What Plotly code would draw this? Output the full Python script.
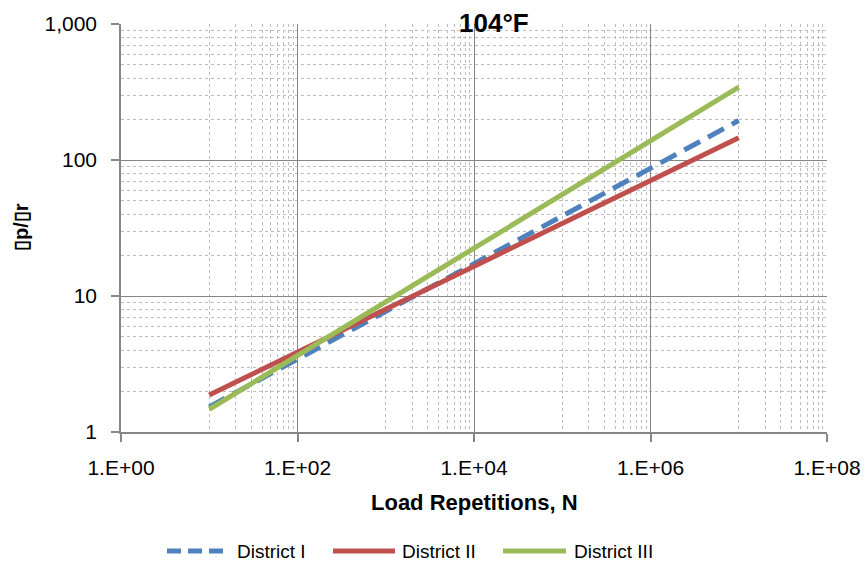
import plotly.graph_objects as go

# Data (log-log straight lines, N = 10 .. 1e7)
load_reps = [1e1, 1e2, 1e3, 1e4, 1e5, 1e6, 1e7]
district_1 = [1.53, 3.44, 7.73, 17.3, 38.8, 87.1, 195]
district_2 = [1.87, 3.86, 7.98, 16.5, 34.1, 70.5, 146]
district_3 = [1.47, 3.65, 9.04, 22.4, 55.6, 138, 343]

series_names = ["District I", "District II", "District III"]
series_colors = ["#4F81BD", "#C0504D", "#9BBB59"]
series_dash = ["18px,9px", "solid", "solid"]

x_tick_vals = [1, 1e2, 1e4, 1e6, 1e8]
x_tick_text = ["1.E+00", "1.E+02", "1.E+04", "1.E+06", "1.E+08"]
y_tick_vals = [1, 10, 100, 1000]
y_tick_text = ["1", "10", "100", "1,000"]

x_minor = [k * 10 ** d for d in (1, 3, 5, 7) for k in range(1, 10)]
y_minor = [k * 10 ** d for d in (0, 1, 2) for k in range(2, 10)]

FONT = "Liberation Sans, Arial, sans-serif"
AXIS_GRAY = "#878787"
MINOR_GRAY = "#BDBDBD"

# plot-area pixel geometry
L, R, T, B = 121, 827, 24, 432
W, H = R - L, B - T


def px_x(p):
    return (p - L) / W


def px_y(p):
    return (B - p) / H


fig = go.Figure()
for name, vals, col, dsh in zip(series_names, [district_1, district_2, district_3],
                                series_colors, series_dash):
    fig.add_trace(go.Scatter(x=load_reps, y=vals, mode="lines", name=name,
                             showlegend=False,
                             line=dict(color=col, width=5, dash=dsh)))

annotations = [
    dict(text="<b>104°F</b>", x=px_x(494), y=px_y(23), xref="paper", yref="paper",
         xanchor="center", yanchor="middle", showarrow=False,
         font=dict(size=26, family=FONT, color="black")),
    dict(text="<b>Load Repetitions, N</b>", x=px_x(474), y=px_y(502), xref="paper", yref="paper",
         xanchor="center", yanchor="middle", showarrow=False,
         font=dict(size=22, family=FONT, color="black")),
    dict(text="<b>\u25afp/\u25afr</b>", x=px_x(21), y=px_y(227), xref="paper", yref="paper",
         xanchor="center", yanchor="middle", showarrow=False, textangle=-90,
         font=dict(size=20, family=FONT, color="black")),
]

# manual legend (long line samples as in the reference)
legend_y = px_y(551)
sample_x = [(167, 223), (333, 395), (503, 566)]
text_x = [235, 400, 572]
shapes = []
for (x0, x1), tx, name, col, dsh in zip(sample_x, text_x, series_names, series_colors,
                                        ["14px,7px", "solid", "solid"]):
    shapes.append(dict(type="line", xref="paper", yref="paper",
                       x0=px_x(x0), x1=px_x(x1), y0=legend_y, y1=legend_y,
                       line=dict(color=col, width=5, dash=dsh)))
    annotations.append(dict(text=name, x=px_x(tx), y=legend_y, xref="paper", yref="paper",
                            xanchor="left", yanchor="middle", showarrow=False,
                            font=dict(size=19, family=FONT, color="black")))

fig.update_layout(
    width=865, height=563,
    margin=dict(l=L, r=865 - R, t=T, b=563 - B),
    paper_bgcolor="white", plot_bgcolor="white",
    font=dict(family=FONT, size=21, color="black"),
    showlegend=False,
    annotations=annotations,
    shapes=shapes,
)

fig.update_xaxes(
    type="log", range=[0, 8], automargin=False,
    tickmode="array", tickvals=x_tick_vals, ticktext=x_tick_text,
    ticks="outside", ticklen=8, tickcolor=AXIS_GRAY, tickwidth=1.5,
    ticklabelstandoff=8, ticklabeloverflow="allow",
    showline=True, linecolor=AXIS_GRAY, linewidth=1.5,
    showgrid=True, gridcolor=AXIS_GRAY, gridwidth=1.3,
    zeroline=False,
    minor=dict(tickmode="array", tickvals=x_minor, showgrid=True,
               gridcolor=MINOR_GRAY, griddash="dot", gridwidth=1, ticks=""),
    tickfont=dict(size=21, family=FONT),
)
fig.update_yaxes(
    type="log", range=[0, 3], automargin=False,
    tickmode="array", tickvals=y_tick_vals, ticktext=y_tick_text,
    ticks="outside", ticklen=8, tickcolor=AXIS_GRAY, tickwidth=1.5,
    ticklabelstandoff=10, ticklabeloverflow="allow",
    showline=True, linecolor=AXIS_GRAY, linewidth=1.5,
    showgrid=True, gridcolor=AXIS_GRAY, gridwidth=1.3,
    zeroline=False,
    minor=dict(tickmode="array", tickvals=y_minor, showgrid=True,
               gridcolor=MINOR_GRAY, griddash="dot", gridwidth=1, ticks=""),
    tickfont=dict(size=21, family=FONT),
)

fig.write_html("out.html")
